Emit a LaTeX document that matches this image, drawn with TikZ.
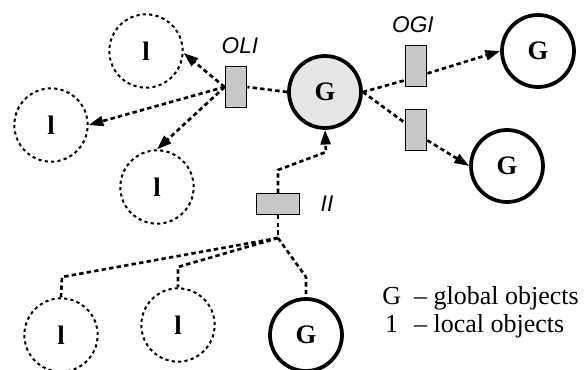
\documentclass[tikz,border=0pt]{standalone}
\usepackage{fontspec}
\setmainfont{Liberation Serif}
\newfontfamily\arialf{Liberation Sans}
\usetikzlibrary{arrows.meta,calc}
\definecolor{boxgray}{HTML}{C8C8C8}
\definecolor{gfill}{HTML}{E6E6E6}
\tikzset{
  lobj/.style={circle,draw,dash pattern=on 2.4pt off 2.4pt,line width=1.5pt,minimum size=55pt,inner sep=0pt,font=\fontsize{20}{20}\selectfont\bfseries},
  gobj/.style={circle,draw,line width=2.8pt,minimum size=54pt,inner sep=0pt,font=\fontsize{20}{20}\selectfont\bfseries},
  vbox/.style={draw,fill=boxgray,line width=1.1pt,minimum width=16pt,minimum height=31pt,inner sep=0pt},
  hbox/.style={draw,fill=boxgray,line width=1.1pt,minimum width=32pt,minimum height=15.5pt,inner sep=0pt},
  conn/.style={line width=2pt,dash pattern=on 3.3pt off 2.4pt},
  arr/.style={conn,-{Triangle[length=11pt,width=7.5pt]}},
  lbl/.style={font=\arialf\itshape\fontsize{17}{17}\selectfont,inner sep=0pt}
}
\begin{document}
\begin{tikzpicture}[x=0.75pt,y=-0.75pt]
\useasboundingbox (0,0) rectangle (587,370);
% objects
\node[lobj] (l1) at (146,51) {l};
\node[lobj] (l2) at (51,125) {l};
\node[lobj] (l3) at (157,187) {l};
\node[gobj,fill=gfill] (g0) at (325,92) {G};
\node[gobj] (g1) at (538,51) {G};
\node[gobj] (g2) at (507,166) {G};
\node[lobj] (bl1) at (61,335) {l};
\node[lobj] (bl2) at (178,325) {l};
\node[gobj] (bg) at (306,335) {G};
% interfaces
\node[vbox] (oli) at (236,87) {};
\node[vbox] (ogi1) at (416,66) {};
\node[vbox] (ogi2) at (416,130) {};
\node[hbox] (ii) at (278,204) {};
\node[lbl] (olil) at (240,46) {OLI};
\node[lbl] (ogil) at (413,25) {OGI};
\node[lbl] (iil) at (327,204) {II};
% OLI connections
\draw[conn] (g0.west) -- (oli.east);
\draw[arr] (oli.west) -- (l1.-3);
\draw[arr] (oli.west) -- (l2.east);
\draw[arr] (oli.west) -- (l3.north);
% OGI connections
\draw[conn] (g0.east) -- ($(ogi1.south west)+(0,-7)$);
\draw[arr] ($(ogi1.south east)+(0,-14)$) -- (g1.west);
\draw[conn] (g0.east) -- ($(ogi2.north west)+(0,14)$);
\draw[arr] ($(ogi2.south east)+(0,-11)$) -- (g2.west);
% II connections
\coordinate (iiup) at (278,170);
\coordinate (iiup2) at (326,152);
\draw[arr] (ii.north) -- (iiup) -- (iiup2) -- (g0.south);
\coordinate (iidn) at (278,238);
\draw[conn] (ii.south) -- (iidn);
\draw[conn] (iidn) -- (62,277) -- (bl1.north);
\draw[conn] (iidn) -- (178,267) -- (bl2.north);
\draw[conn] (iidn) -- (306,277) -- (bg.north);
% legend
\node[anchor=west,inner sep=0pt,font=\fontsize{19.5}{21}\selectfont] (leg) at (382,313)
  {\begin{tabular}{@{}c@{\ \ }l@{}}G & -- global objects\\ 1 & -- local objects\end{tabular}};
\end{tikzpicture}
\end{document}
